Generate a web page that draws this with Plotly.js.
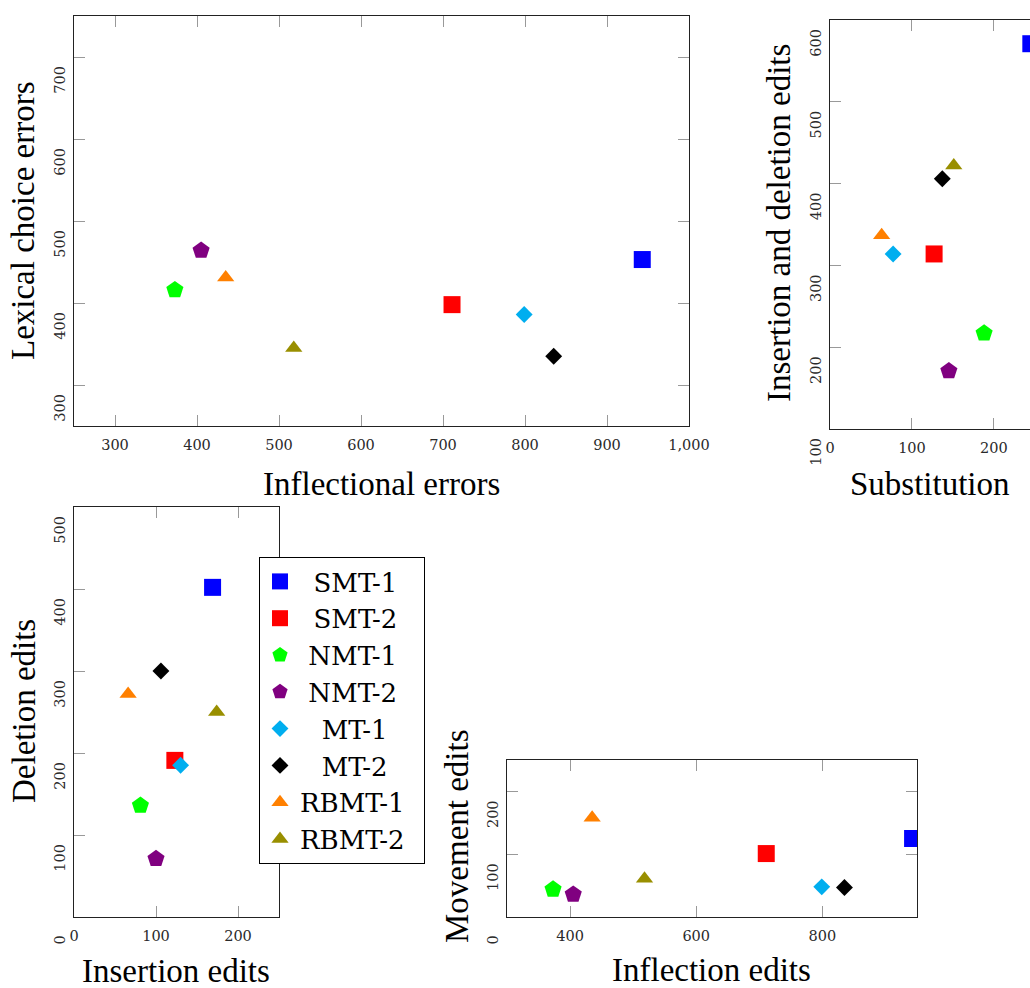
<!DOCTYPE html>
<html>
<head>
<meta charset="utf-8">
<script src="https://cdn.plot.ly/plotly-3.0.1.min.js"></script>
<style>
html,body{margin:0;padding:0;background:#fff;overflow:hidden;}
#chart{width:1030px;height:988px;}
</style>
</head>
<body>
<div id="chart"></div>
<script>
// ---- data ----
const models = ['SMT-1','SMT-2','NMT-1','NMT-2','MT-1','MT-2','RBMT-1','RBMT-2'];
const legendPad = ['\u00a0\u2009','\u00a0\u2009','\u00a0','\u00a0','\u00a0\u00a0\u2009','\u00a0\u00a0\u2009','',''];
const inflectionalErrors = [943, 711, 373, 405, 799, 835, 435, 518];
const lexicalChoiceErrors = [453, 398, 416, 464, 386, 335, 431, 345];
const substitutionEdits = [245, 127, 188, 145, 77, 137, 63, 151];
const insDelEdits = [571, 314, 217, 171, 314, 406, 337, 422];
const insertionEdits = [169, 123, 81, 100, 130, 106, 66, 174];
const deletionEdits = [402, 191, 136, 71, 185, 300, 272, 250];
const inflectionEdits = [943, 711, 373, 405, 799, 835, 435, 518];
const movementEdits = [125, 101, 44, 36, 48, 47, 158, 61];

const colors = ['#0000ff','#ff0000','#00ff00','#800080','#00aeef','#000000','#ff8000','#998f00'];
const symbols = ['square','square','pentagon','pentagon','diamond','diamond','triangle-up','triangle-up'];
const sizes = [17,17,18,18,13,13,15,15];

const W = 1030, H = 988;
const fx = p => p / W;
const fy = p => 1 - p / H;

const traces = [];
const panels = [
  {xs: inflectionalErrors, ys: lexicalChoiceErrors, xa: 'x', ya: 'y'},
  {xs: substitutionEdits, ys: insDelEdits, xa: 'x2', ya: 'y2'},
  {xs: insertionEdits, ys: deletionEdits, xa: 'x3', ya: 'y3'},
  {xs: inflectionEdits, ys: movementEdits, xa: 'x4', ya: 'y4'}
];
panels.forEach((p, pi) => {
  models.forEach((m, i) => {
    traces.push({
      type: 'scatter', mode: 'markers',
      x: [p.xs[i]], y: [p.ys[i]],
      xaxis: p.xa, yaxis: p.ya,
      name: legendPad[i] + m + '\u00a0\u2009',
      legendgroup: m,
      showlegend: pi === 2,
      marker: {symbol: symbols[i], size: sizes[i], color: colors[i], line: {width: 0}}
    });
  });
});

const tickFont = {family: 'DejaVu Serif', size: 14.5, color: '#2a2a2a'};
function xax(anchor, domain, range, dtick, extra) {
  return Object.assign({
    anchor: anchor, domain: domain, range: range, dtick: dtick, tick0: 0,
    showgrid: false, zeroline: false,
    showline: true, linecolor: '#222', linewidth: 1.3, mirror: 'ticks',
    ticks: 'inside', ticklen: 11, tickcolor: '#999', tickwidth: 1,
    tickfont: tickFont, tickformat: ',d', ticklabelstandoff: 5, fixedrange: true
  }, extra || {});
}
function yax(anchor, domain, range, dtick, extra) {
  return Object.assign({
    anchor: anchor, domain: domain, range: range, dtick: dtick, tick0: 0,
    showgrid: false, zeroline: false,
    showline: true, linecolor: '#222', linewidth: 1.3, mirror: 'ticks',
    ticks: 'inside', ticklen: 11, tickcolor: '#999', tickwidth: 1,
    tickfont: tickFont, tickangle: -90, ticklabelshift: 25, ticklabelstandoff: 2,
    fixedrange: true
  }, extra || {});
}

const titleFont = {family: 'Liberation Serif', size: 33, color: '#000'};
function ann(text, x, y, angle, xanchor) {
  return {text: text, x: fx(x), y: fy(y), xref: 'paper', yref: 'paper',
    showarrow: false, textangle: angle || 0, xanchor: xanchor || 'center', yanchor: 'middle',
    font: titleFont};
}

const layout = {
  width: W, height: H,
  margin: {l: 0, r: 0, t: 0, b: 0},
  paper_bgcolor: '#fff', plot_bgcolor: '#fff',
  showlegend: true,
  legend: {
    x: fx(259), y: fy(557), xanchor: 'left', yanchor: 'top',
    bgcolor: '#fff', bordercolor: '#000', borderwidth: 1,
    font: {family: 'DejaVu Serif', size: 26, color: '#000'},
    tracegroupgap: 0, itemclick: false, itemdoubleclick: false
  },
  xaxis: xax('y', [fx(74), fx(689)], [250, 1000], 100),
  yaxis: yax('x', [fy(426), fy(16)], [250, 750], 100),
  xaxis2: xax('y2', [fx(830), 1], [0, 244], 100),
  yaxis2: yax('x2', [fy(429), fy(20)], [100, 600], 100, {mirror: false}),
  xaxis3: xax('y3', [fx(74), fx(279)], [0, 250], 100),
  yaxis3: yax('x3', [fy(917), fy(507)], [0, 500], 100),
  xaxis4: xax('y4', [fx(507), fx(917)], [300, 950], 200),
  yaxis4: yax('x4', [fy(917), fy(760)], [0, 250], 100),
  annotations: [
    ann('Inflectional errors', 381, 484),
    ann('Lexical choice errors', 23, 221, -90),
    ann('Insertion and deletion edits', 779, 223, -90),
    ann('Substitution', 848, 484, 0, 'left'),
    ann('Deletion edits', 24, 711, -90),
    ann('Insertion edits', 176, 971),
    ann('Movement edits', 457, 836, -90),
    ann('Inflection edits', 711, 970)
  ]
};

Plotly.newPlot('chart', traces, layout, {staticPlot: true, displayModeBar: false});
</script>
</body>
</html>
